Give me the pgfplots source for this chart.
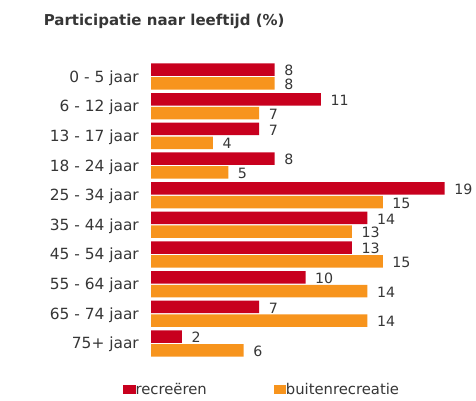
\documentclass[border=0pt]{standalone}
\usepackage{fontspec}
\setmainfont{DejaVu Sans}
\usepackage{pgfplots}
\pgfplotsset{compat=1.18}
\definecolor{rec}{HTML}{C8001E}
\definecolor{bui}{HTML}{F7941D}
\definecolor{txt}{HTML}{363636}
\begin{document}
\begin{tikzpicture}[x=1pt,y=1pt]
\path[use as bounding box] (0,0) rectangle (476,400);
\node[anchor=base west, inner sep=0pt, text=txt, font=\fontsize{15}{18}\selectfont\bfseries] at (43.6,374) {Participatie naar leeftijd (\%)};
\begin{axis}[
 at={(151pt,41.7pt)}, anchor=south west,
 scale only axis, width=309pt, height=296.6pt,
 xbar, xmin=0, xmax=20, ymin=-0.5, ymax=9.5,
 hide x axis, y axis line style={draw=none},
 major tick length=0pt, ytick pos=left,
 ytick={0,...,9},
 yticklabels={75+ jaar, 65 - 74 jaar, 55 - 64 jaar, 45 - 54 jaar, 35 - 44 jaar, 25 - 34 jaar, 18 - 24 jaar, 13 - 17 jaar, 6 - 12 jaar, 0 - 5 jaar},
 yticklabel style={anchor=base east, inner sep=0pt, xshift=-12pt, yshift=-5.5pt, text=txt, font=\fontsize{15.4}{18}\selectfont},
 bar width=12.5pt,
 clip=false,
 nodes near coords,
 every node near coord/.append style={anchor=west, inner sep=0pt, xshift=9.5pt, yshift=-1pt, text=txt, font=\fontsize{14.2}{17}\selectfont},
 /pgf/number format/assume math mode=true,
 legend columns=2,
 legend cell align=left,
 legend style={draw=none, fill=none, inner sep=0pt, at={(axis description cs:-0.0906,-0.127)}, anchor=south west,
   /tikz/every even column/.append style={column sep=66.7pt},
   nodes={inner sep=0pt, anchor=base west, text=txt, font=\fontsize{14.8}{17}\selectfont}},
 legend image code/.code={\fill[#1] (0pt,0.5pt) rectangle (10pt,9.5pt); \path (0pt,0pt) rectangle (12.4pt,9.5pt);},
]
\addplot[fill=rec, draw=none, bar shift=6.9pt] coordinates {(8,9) (11,8) (7,7) (8,6) (19,5) (14,4) (13,3) (10,2) (7,1) (2,0)};
\addlegendentry{recreëren}
\addplot[fill=bui, draw=none, bar shift=-6.9pt] coordinates {(8,9) (7,8) (4,7) (5,6) (15,5) (13,4) (15,3) (14,2) (14,1) (6,0)};
\addlegendentry{buitenrecreatie}
\end{axis}
\end{tikzpicture}
\end{document}
